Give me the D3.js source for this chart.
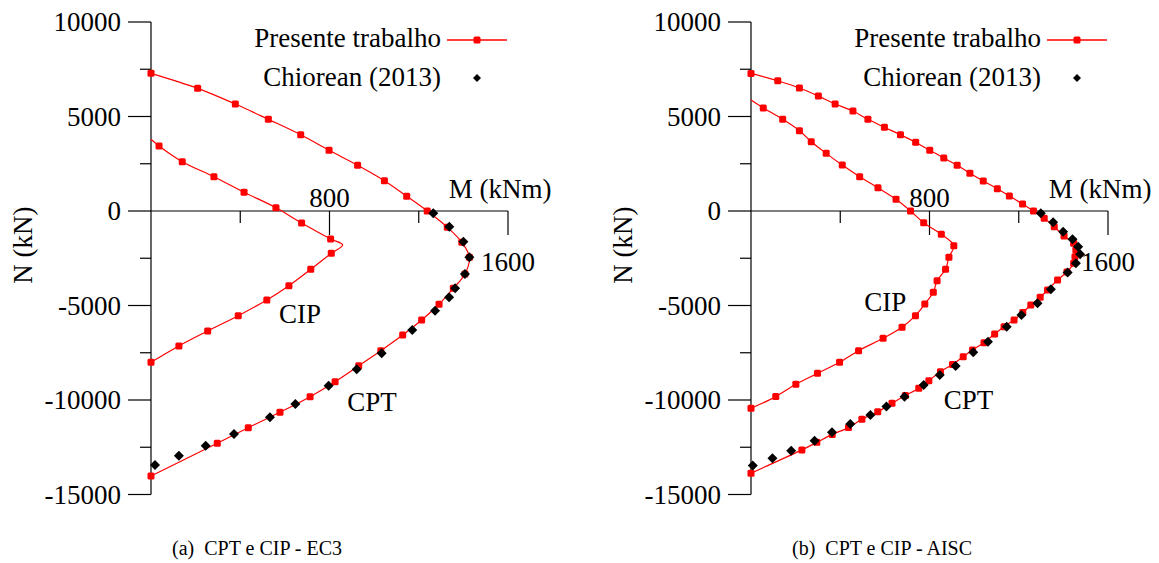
<!DOCTYPE html>
<html><head><meta charset="utf-8">
<script src="https://cdn.jsdelivr.net/npm/d3@7"></script>
<style>
body{margin:0;background:#fff}
svg{display:block}
</style>
</head><body>
<svg id="chart" width="1159" height="563" font-family="'Liberation Serif', 'Times New Roman', Times, 'DejaVu Serif', serif"></svg>
<script>
// ---------- data ----------
const momentTicks = [0, 400, 800, 1200, 1600];
const momentLabels = [800, 1600];
const axialTicks = [-15000, -12500, -10000, -7500, -5000, -2500, 0, 2500, 5000, 7500, 10000];
const axialLabels = [10000, 5000, 0, -5000, -10000, -15000];
const seriesNames = ["Presente trabalho", "Chiorean (2013)"];
const captions = ["(a)  CPT e CIP - EC3", "(b)  CPT e CIP - AISC"];
const xTitle = "M (kNm)";
const yTitle = "N (kN)";

// [M (kNm), N (kN), marker shown (0 = line only)]
const ec3Cpt = [[0,7285],[209,6490],[378,5660],[526,4850],[671,4035],[798,3210],[926,2420],[1046,1600],[1146,780],[1238,0],[1328,-860],[1393,-1655],[1427,-2450],[1407,-3330],[1355,-4090],[1291,-4935],[1213,-5765],[1128,-6560],[1030,-7390],[931,-8185],[825,-9030],[713,-9825],[578,-10650],[436,-11465],[297,-12290],[0,-14020]];
const ec3Cip = [[0,3795,0],[36,3440],[140,2610],[282,1815],[417,990],[560,175],[675,-635],[805,-1480],[859,-1800,0],[808,-2240],[716,-3085],[618,-3950],[519,-4710],[391,-5540],[254,-6350],[125,-7140],[0,-8005]];
const ec3Chiorean = [[1265,-120],[1337,-830],[1400,-1625],[1427,-2450],[1407,-3330],[1363,-4090],[1336,-4565],[1273,-5275],[1171,-6295],[1034,-7530],[922,-8375],[796,-9240],[647,-10210],[533,-10915],[372,-11800],[245,-12415],[125,-12945],[18,-13440]];

const aiscCpt = [[0,7280],[120,6890],[217,6505],[302,6080],[377,5660],[457,5290],[524,4850],[598,4430],[670,4035],[738,3635],[801,3210],[864,2805],[924,2420],[981,1995],[1041,1585],[1104,1180],[1158,795],[1217,370],[1266,0],[1314,-385],[1359,-830],[1403,-1320],[1446,-1710],[1456,-2065],[1452,-2420],[1446,-2765],[1416,-3225],[1374,-3650],[1329,-4180],[1296,-4565],[1254,-4970],[1218,-5370],[1179,-5765],[1134,-6120],[1092,-6505],[1044,-6965],[993,-7350],[951,-7710],[903,-8120],[849,-8500],[797,-8975],[752,-9375],[692,-9760],[632,-10170],[568,-10620],[497,-11020],[437,-11460],[364,-11820],[295,-12240],[228,-12640],[0,-13870]];
const aiscCip = [[0,5870,0],[55,5455],[142,4850],[217,4250],[270,3665],[337,3050],[409,2430],[487,1815],[569,1230],[650,620],[715,0],[774,-620],[853,-1230],[909,-1835],[887,-2450],[872,-3085],[834,-3690],[817,-4300],[779,-4920],[737,-5540],[677,-6150],[592,-6735],[482,-7390],[397,-8005],[298,-8590],[201,-9170],[111,-9820],[0,-10440]];
const aiscChiorean = [[1299,-120],[1354,-600],[1399,-1095],[1441,-1495],[1466,-1890],[1475,-2290],[1456,-2765],[1419,-3260],[1344,-4140],[1284,-4880],[1212,-5500],[1146,-6120],[1062,-6915],[996,-7475],[917,-8200],[846,-8675],[774,-9205],[688,-9825],[607,-10350],[535,-10790],[445,-11270],[363,-11710],[285,-12150],[180,-12680],[96,-13080],[8,-13470]];

// ---------- layout ----------
const panels = [
  {left:151, cpt:ec3Cpt, cip:ec3Cip, ref:ec3Chiorean, caption:captions[0], capX:257, cipLbl:[668,-5400], cptLbl:[990,-10100]},
  {left:751, cpt:aiscCpt, cip:aiscCip, ref:aiscChiorean, caption:captions[1], capX:882, cipLbl:[602,-4800], cptLbl:[975,-10000]}
];
const RED = "#ff0000";
const svg = d3.select("#chart");
const FS = 27;

function square(g, x, y, s){
  g.append("rect").attr("x", x - s/2).attr("y", y - s/2).attr("width", s).attr("height", s)
   .attr("rx", 1.5).attr("fill", RED);
}
function diamond(g, x, y, r){
  g.append("path").attr("d", `M${x},${y-r}L${x+r},${y}L${x},${y+r}L${x-r},${y}Z`).attr("fill", "#000");
}

panels.forEach(p => {
  const g = svg.append("g");
  const x = d3.scaleLinear().domain([0,1600]).range([p.left, p.left + 357]);
  const y = d3.scaleLinear().domain([-15000,10000]).range([494.5, 22]);
  const x0 = x(0), y0 = y(0);

  // y axis
  g.append("line").attr("x1", x0).attr("x2", x0).attr("y1", y(10000)).attr("y2", y(-15000)).attr("stroke","#000").attr("stroke-width",1.2);
  axialTicks.forEach(t => {
    const major = t % 5000 === 0;
    g.append("line").attr("x1", x0 - (major ? 23 : 11)).attr("x2", x0).attr("y1", y(t)).attr("y2", y(t)).attr("stroke","#000").attr("stroke-width",1.2);
  });
  axialLabels.forEach(t => {
    g.append("text").attr("x", x0 - 30).attr("y", y(t)).attr("dy","0.35em").attr("text-anchor","end")
     .attr("font-size", FS).text(t);
  });
  g.append("text").attr("transform", `translate(${x0 - 128},${y(-1800)}) rotate(-90)`).attr("text-anchor","middle")
   .attr("dy","0.35em").attr("font-size", FS).text(yTitle);

  // x axis
  g.append("line").attr("x1", x0).attr("x2", x(1600)).attr("y1", y0).attr("y2", y0).attr("stroke","#000").attr("stroke-width",1.2);
  momentTicks.slice(1).forEach(t => {
    const major = t % 800 === 0;
    g.append("line").attr("x1", x(t)).attr("x2", x(t)).attr("y1", y0).attr("y2", y0 + (major ? 24 : 12)).attr("stroke","#000").attr("stroke-width",1.2);
  });
  g.append("text").attr("x", x(momentLabels[0])).attr("y", y0 - 13).attr("dy","0.35em").attr("text-anchor","middle").attr("font-size", FS).text(momentLabels[0]);
  g.append("text").attr("x", x(momentLabels[1])).attr("y", y0 + 51).attr("dy","0.35em").attr("text-anchor","middle").attr("font-size", FS).text(momentLabels[1]);
  g.append("text").attr("x", x(1565)).attr("y", y0 - 22).attr("dy","0.35em").attr("text-anchor","middle").attr("font-size", FS).text(xTitle);

  // curves
  const line = d3.line().x(d => x(d[0])).y(d => y(d[1])).curve(d3.curveCatmullRom.alpha(0.5));
  [p.cpt, p.cip].forEach(s => {
    g.append("path").attr("d", line(s)).attr("fill","none").attr("stroke", RED).attr("stroke-width", 1.2);
  });
  [p.cpt, p.cip].forEach(s => s.filter(d => d[2] !== 0).forEach(d => square(g, x(d[0]), y(d[1]), 7)));
  p.ref.forEach(d => diamond(g, x(d[0]), y(d[1]), 5));

  // annotations
  g.append("text").attr("x", x(p.cipLbl[0])).attr("y", y(p.cipLbl[1])).attr("dy","0.35em").attr("text-anchor","middle").attr("font-size", FS).text("CIP");
  g.append("text").attr("x", x(p.cptLbl[0])).attr("y", y(p.cptLbl[1])).attr("dy","0.35em").attr("text-anchor","middle").attr("font-size", FS).text("CPT");

  // legend
  const lx = p.left + 290;
  g.append("text").attr("x", lx).attr("y", 38).attr("dy","0.35em").attr("text-anchor","end").attr("font-size", FS).text(seriesNames[0]);
  g.append("line").attr("x1", lx + 6).attr("x2", lx + 66).attr("y1", 40).attr("y2", 40).attr("stroke", RED).attr("stroke-width", 1.5);
  square(g, lx + 36, 40, 7);
  g.append("text").attr("x", lx).attr("y", 77).attr("dy","0.35em").attr("text-anchor","end").attr("font-size", FS).text(seriesNames[1]);
  diamond(g, lx + 36, 78, 4);

  // caption
  g.append("text").attr("x", p.capX).attr("y", 548).attr("dy","0.35em").attr("text-anchor","middle").attr("font-size", 20).attr("xml:space","preserve").style("white-space","pre").text(p.caption);
});
</script>
</body></html>
